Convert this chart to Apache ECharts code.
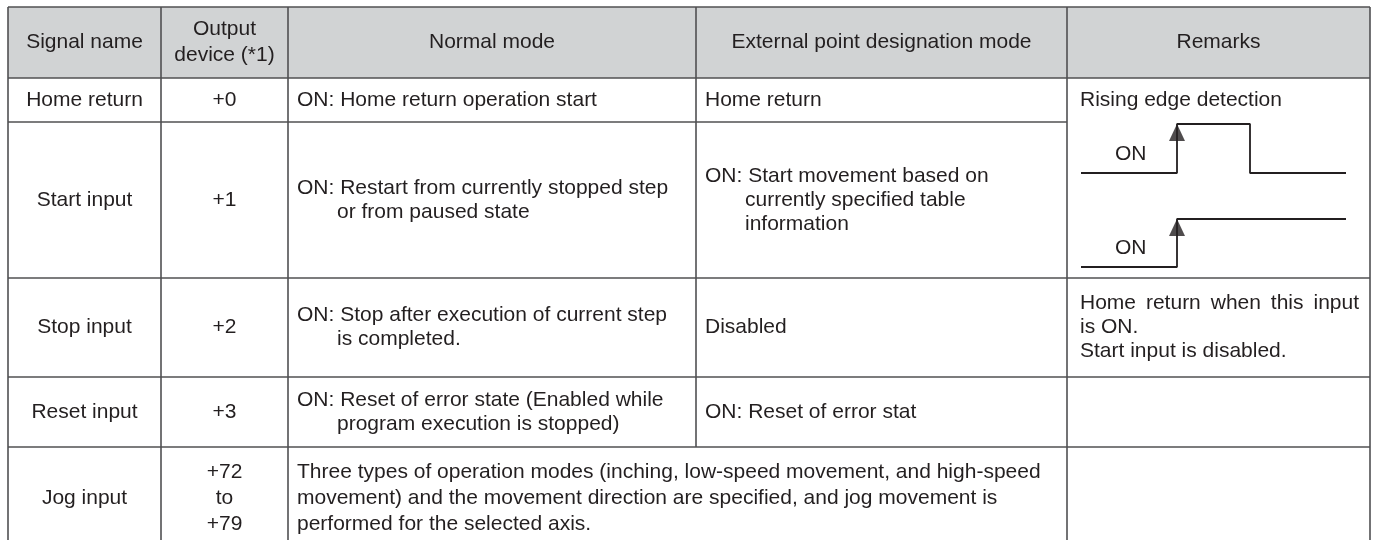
<!DOCTYPE html>
<html>
<head>
<meta charset="utf-8">
<script src="https://cdn.jsdelivr.net/npm/echarts@6/dist/echarts.min.js"></script>
<style>html,body{margin:0;padding:0;background:#fff}#c{width:1377px;height:540px}</style>
</head>
<body>
<div id="c"></div>
<script>
// ---- table content ----
const headers = ['Signal name', 'Output\ndevice (*1)', 'Normal mode', 'External point designation mode', 'Remarks'];
const signalNames = ['Home return', 'Start input', 'Stop input', 'Reset input', 'Jog input'];
const outputDevices = ['+0', '+1', '+2', '+3', '+72\nto\n+79'];
const normalMode = [
  'ON: Home return operation start',
  'ON: Restart from currently stopped step\nor from paused state',
  'ON: Stop after execution of current step\nis completed.',
  'ON: Reset of error state (Enabled while\nprogram execution is stopped)',
  'Three types of operation modes (inching, low-speed movement, and high-speed\nmovement) and the movement direction are specified, and jog movement is\nperformed for the selected axis.'
];
const externalMode = [
  'Home return',
  'ON: Start movement based on\ncurrently specified table\ninformation',
  'Disabled',
  'ON: Reset of error stat',
  null
];
const remarks = ['Rising edge detection', null, 'Home return when this input\nis ON.\nStart input is disabled.', '', ''];
// timing diagram (x in time units, y = signal level 0/1)
const pulseWave = [[0, 0], [96, 0], [96, 1], [169, 1], [169, 0], [265, 0]];
const levelWave = [[0, 0], [96, 0], [96, 1], [265, 1]];
const edgeMarks = [[96, 1]];
const waveLabel = 'ON';

// ---- layout ----
const colX = [8, 161, 288, 696, 1067, 1370];
const rowY = [7, 78, 122, 278, 377, 447, 549];
const rowLH = [24, 24, 24, 24, 26];
const FONT = "'Liberation Sans', Arial, Helvetica, sans-serif";
const FS = 21, LH = 24;
const TXT = '#231f20', LINE = '#505052', HEAD = '#d1d3d4';
const fontStr = FS + 'px ' + FONT;
const measureCtx = document.createElement('canvas').getContext('2d');
measureCtx.font = fontStr;

const chart = echarts.init(document.getElementById('c'), null, {renderer: 'canvas'});
const g = [];
function rect(x1, y1, x2, y2, fill) {
  g.push({type: 'rect', shape: {x: x1, y: y1, width: x2 - x1, height: y2 - y1}, style: {fill: fill}, z: 1});
}
function line(x1, y1, x2, y2) {
  g.push({type: 'line', shape: {x1, y1, x2, y2}, style: {stroke: LINE, lineWidth: 1.6}, z: 5});
}
function text(str, x, y, align, lh) {
  g.push({type: 'text', x: x, y: y, style: {text: str, font: fontStr, fill: TXT, align: align, verticalAlign: 'middle', lineHeight: lh || LH}, z: 10});
}
function justify(str, x1, x2, y) {
  const words = str.split(' ');
  const total = words.reduce((s, w) => s + measureCtx.measureText(w).width, 0);
  const gap = (x2 - x1 - total) / (words.length - 1);
  let x = x1;
  words.forEach(w => { text(w, x, y, 'left'); x += measureCtx.measureText(w).width + gap; });
}
// multi-line block centred on yc; "ON:" paragraphs get a hanging indent
function block(str, x, yc, lh) {
  const lines = str.split('\n');
  const y0 = yc - (lines.length - 1) * lh / 2;
  lines.forEach((s, i) => {
    const indent = (i > 0 && lines[0].startsWith('ON:')) ? 40 : 0;
    text(s, x + indent, y0 + i * lh, 'left');
  });
}
// header
rect(colX[0], rowY[0], colX[5], rowY[1], HEAD);
headers.forEach((h, i) => text(h, (colX[i] + colX[i + 1]) / 2, (rowY[0] + rowY[1]) / 2, 'center', 26));
// rows
for (let r = 0; r < signalNames.length; r++) {
  const yc = (rowY[r + 1] + rowY[r + 2]) / 2;
  const lh = rowLH[r];
  text(signalNames[r], (colX[0] + colX[1]) / 2, yc, 'center', lh);
  text(outputDevices[r], (colX[1] + colX[2]) / 2, yc, 'center', lh);
  block(normalMode[r], colX[2] + 9, yc, lh);
  if (externalMode[r] !== null) block(externalMode[r], colX[3] + 9, yc, lh);
  if (remarks[r]) {
    const ls = remarks[r].split('\n');
    ls.forEach((s, i) => {
      const y = yc - (ls.length - 1) * lh / 2 + i * lh;
      if (ls.length > 1 && i === 0) justify(s, colX[4] + 13, colX[5] - 11, y);
      else text(s, colX[4] + 13, y, 'left');
    });
  }
}
// grid lines
line(colX[0], rowY[0], colX[5], rowY[0]);
for (let r = 1; r < rowY.length - 1; r++) {
  if (r === 2) line(colX[0], rowY[r], colX[4], rowY[r]);
  else line(colX[0], rowY[r], colX[5], rowY[r]);
}
const bottom = 540;
[0, 1, 2, 4, 5].forEach(c => line(colX[c], rowY[0], colX[c], bottom));
line(colX[3], rowY[0], colX[3], rowY[5]);

// waveforms drawn through cartesian grids
const xMax = 265;
const grids = [
  {left: 1081, width: 265, top: 124, height: 49},
  {left: 1081, width: 265, top: 219, height: 48}
];
const waveOpt = (idx, data) => ({
  type: 'line', xAxisIndex: idx, yAxisIndex: idx, data: data, symbol: 'none', silent: true,
  lineStyle: {color: TXT, width: 1.8}, z: 20
});
const arrowOpt = (idx) => ({
  type: 'scatter', xAxisIndex: idx, yAxisIndex: idx, data: edgeMarks, symbol: 'triangle',
  symbolSize: [16, 17], symbolOffset: [0, '50%'], itemStyle: {color: TXT}, silent: true, z: 21
});
const option = {
  animation: false,
  grid: grids.map(p => Object.assign({containLabel: false}, p)),
  xAxis: grids.map((p, i) => ({type: 'value', gridIndex: i, min: 0, max: xMax, show: false})),
  yAxis: grids.map((p, i) => ({type: 'value', gridIndex: i, min: 0, max: 1, show: false})),
  series: [waveOpt(0, pulseWave), arrowOpt(0), waveOpt(1, levelWave), arrowOpt(1)],
  graphic: {elements: g.concat([
    {type: 'text', x: 1115, y: 154, style: {text: waveLabel, font: fontStr, fill: TXT, align: 'left', verticalAlign: 'middle'}, z: 10},
    {type: 'text', x: 1115, y: 248, style: {text: waveLabel, font: fontStr, fill: TXT, align: 'left', verticalAlign: 'middle'}, z: 10}
  ])}
};
chart.setOption(option);
</script>
</body>
</html>
